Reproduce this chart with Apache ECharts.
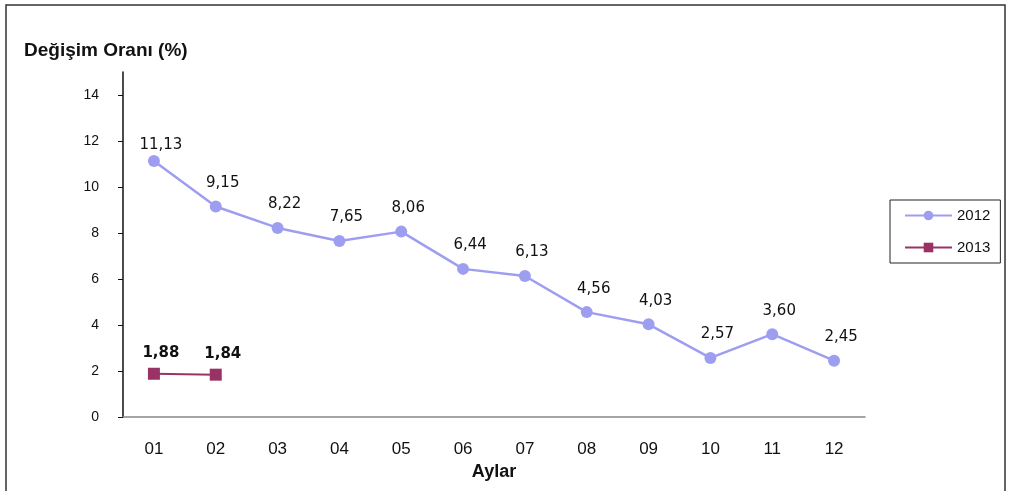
<!DOCTYPE html>
<html><head><meta charset="utf-8">
<script src="https://cdn.jsdelivr.net/npm/echarts@6/dist/echarts.min.js"></script>
<style>html,body{margin:0;padding:0;background:#fff}#c{width:1011px;height:491px}</style>
</head><body><div id="c"></div>
<script>
const months = ['01','02','03','04','05','06','07','08','09','10','11','12'];
const values2012 = [11.13, 9.15, 8.22, 7.65, 8.06, 6.44, 6.13, 4.56, 4.03, 2.57, 3.60, 2.45];
const values2013 = [1.88, 1.84];
const yTicks = [0, 2, 4, 6, 8, 10, 12, 14];

const fmt = p => Number(p.value).toFixed(2).replace('.', ',');
const chart = echarts.init(document.getElementById('c'));
chart.setOption({
  animation: false,
  textStyle: {fontFamily: 'Liberation Sans, Arial, sans-serif'},
  graphic: [{type: 'rect', shape: {x: 6, y: 5, width: 999, height: 490}, style: {fill: 'none', stroke: '#333', lineWidth: 1.5}}],
  title: {text: 'Değişim Oranı (%)', left: 19, top: 36, textStyle: {fontSize: 19, fontWeight: 'bold', color: '#111', fontFamily: 'Liberation Sans, Arial, sans-serif'}},
  grid: {left: 123, right: 146, top: 72, bottom: 74},
  legend: {
    orient: 'vertical', left: 890, top: 200, width: 113,
    borderColor: '#222', borderWidth: 1, padding: [8, 10, 8, 14],
    itemWidth: 47, itemHeight: 12, itemGap: 17,
    textStyle: {fontSize: 15, color: '#111'},
    data: ['2012', '2013']
  },
  xAxis: {
    type: 'category', data: months, boundaryGap: true,
    name: 'Aylar', nameLocation: 'middle', nameGap: 38,
    nameTextStyle: {fontSize: 18, fontWeight: 'bold', color: '#111'},
    axisLine: {lineStyle: {color: '#888', width: 1.5}},
    axisTick: {show: false},
    axisLabel: {fontSize: 17, color: '#111', margin: 24}
  },
  yAxis: {
    type: 'value', min: 0, max: 15, interval: 2,
    splitLine: {show: false},
    axisLine: {show: true, lineStyle: {color: '#111', width: 1.5}},
    axisTick: {show: true, length: 5, lineStyle: {color: '#111'}},
    axisLabel: {fontSize: 14, color: '#111', margin: 24, showMaxLabel: false,
      formatter: v => yTicks.includes(v) ? String(v) : ''}
  },
  series: [
    {
      name: '2012', type: 'line',
      data: values2012.map((v, i) => i === 0 ? {value: v, label: {distance: 2}} : v),
      symbol: 'circle', symbolSize: 12,
      lineStyle: {color: '#9e9ef0', width: 2.5},
      itemStyle: {color: '#9e9ef0'},
      label: {show: true, position: 'top', distance: 10, offset: [7, 0], fontSize: 15, fontFamily: 'DejaVu Sans, sans-serif', color: '#111', formatter: fmt}
    },
    {
      name: '2013', type: 'line',
      data: values2013,
      symbol: 'rect', symbolSize: 12,
      lineStyle: {color: '#993366', width: 2},
      itemStyle: {color: '#993366'},
      label: {show: true, position: 'top', distance: 7, offset: [7, 0], fontSize: 15, fontWeight: 'bold', fontFamily: 'DejaVu Sans, sans-serif', color: '#111', formatter: fmt}
    }
  ]
});
</script></body></html>
